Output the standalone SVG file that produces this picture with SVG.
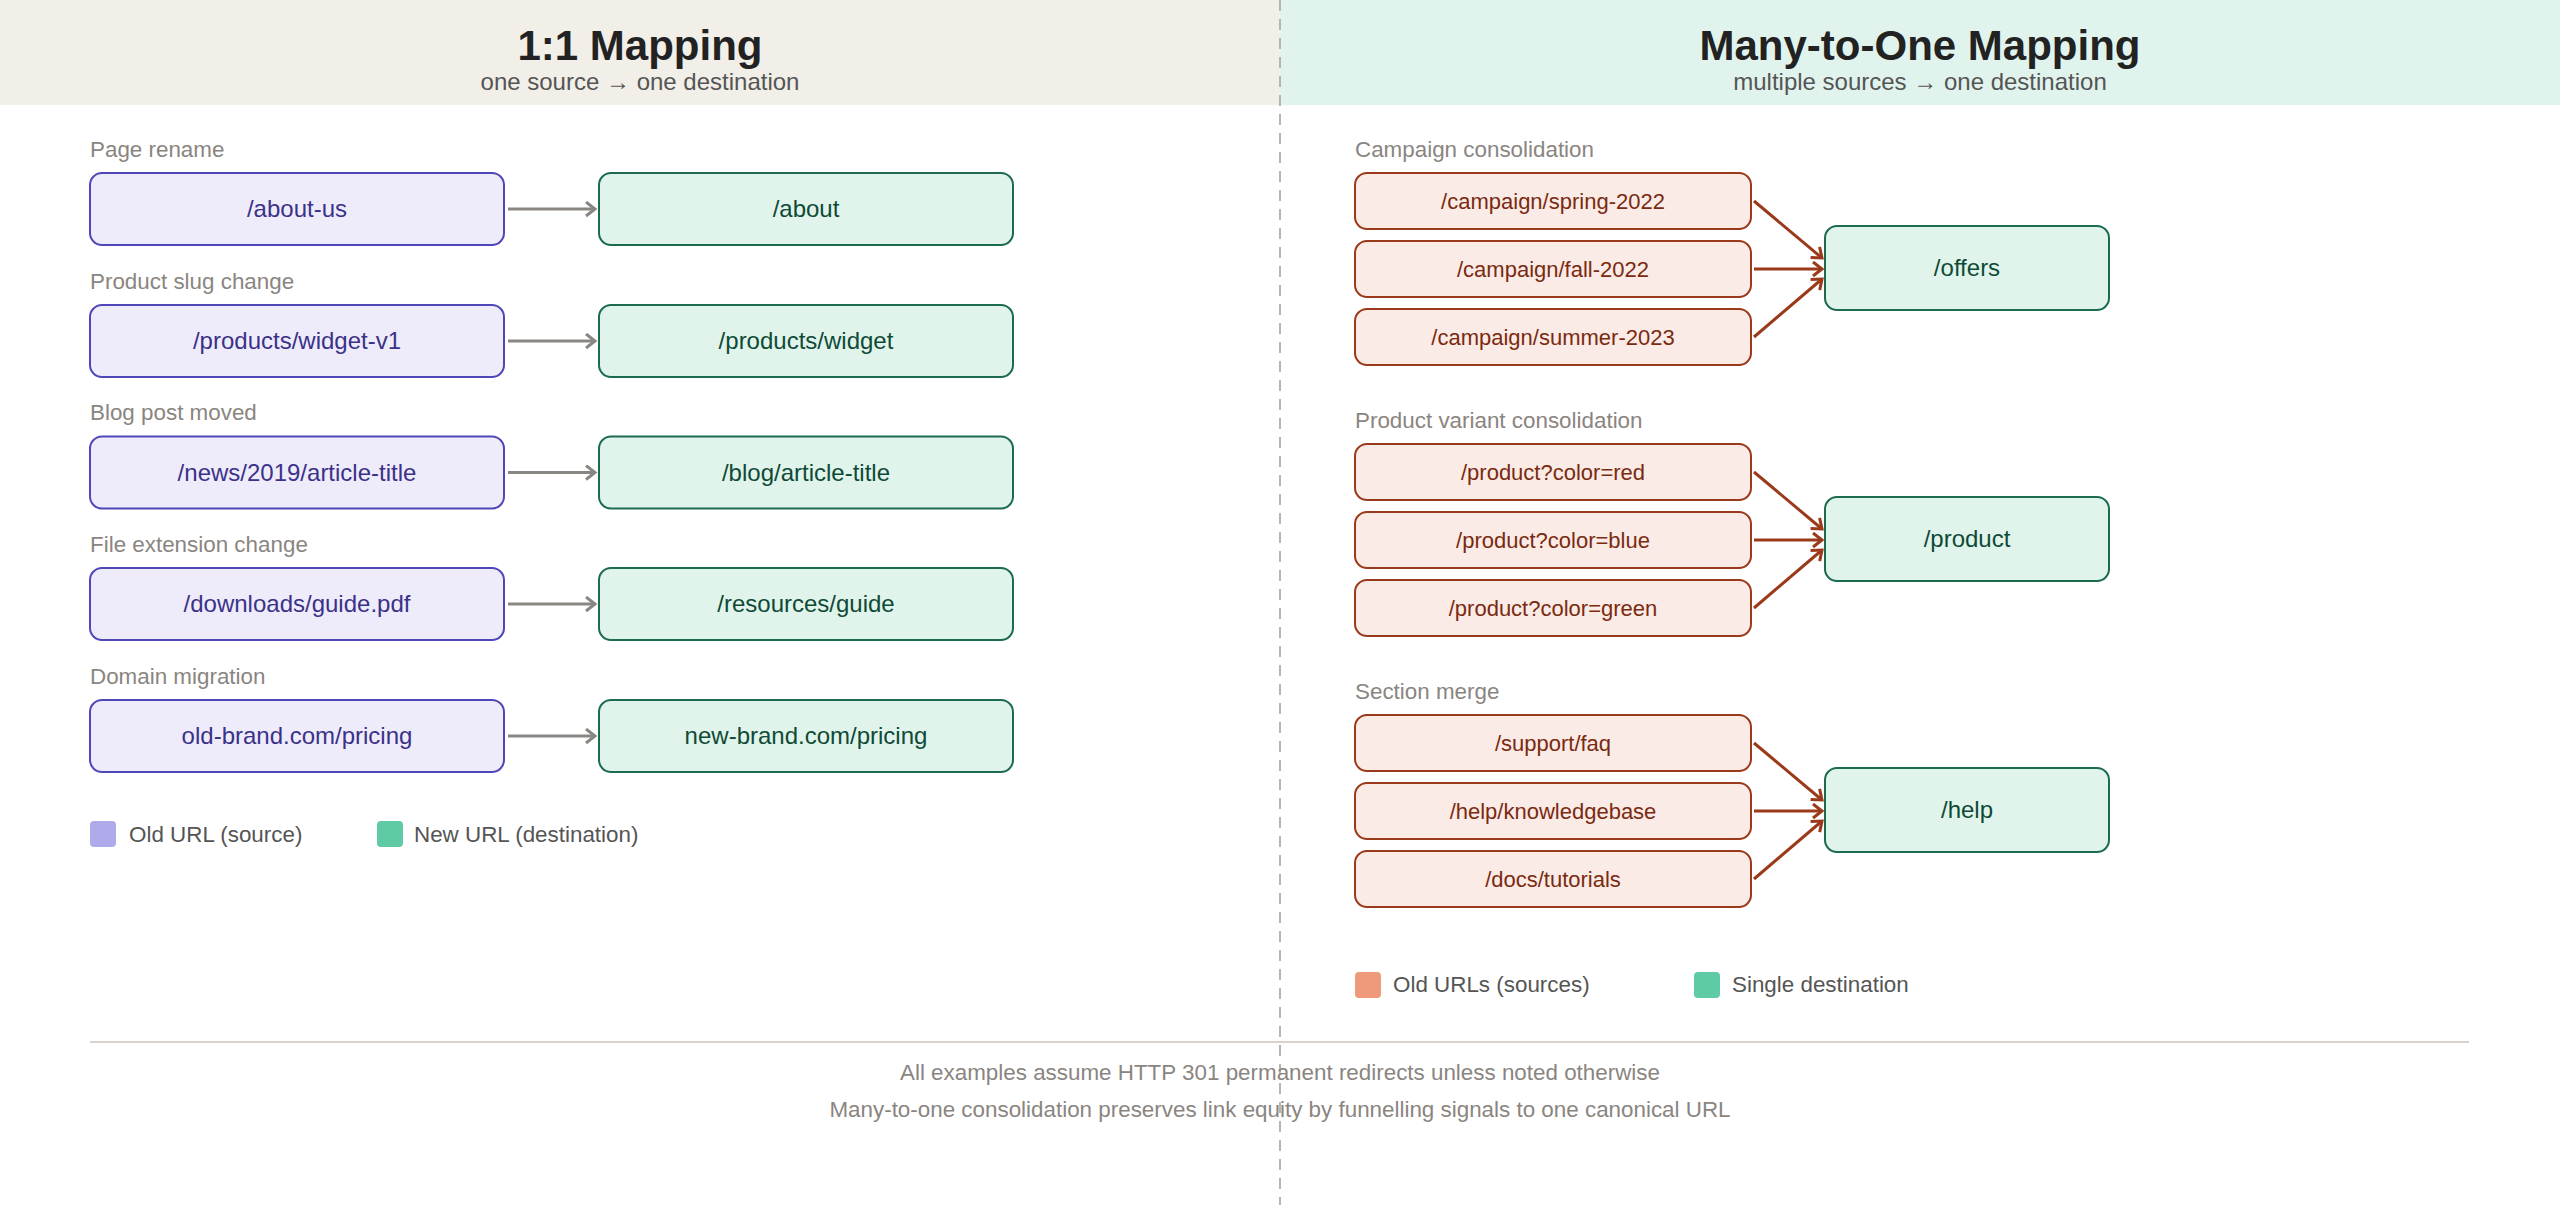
<svg xmlns="http://www.w3.org/2000/svg" width="2560" height="1205" viewBox="0 0 2560 1205">
<style>
text{font-family:"Liberation Sans",Arial,sans-serif}
.title{font-size:42px;font-weight:bold;fill:#222;text-anchor:middle}
.sub{font-size:24px;fill:#555;text-anchor:middle}
.lbl{font-size:22.4px;fill:#8a8580}
.leg{font-size:22.4px;fill:#555}
.foot{font-size:22.4px;fill:#8a8580;text-anchor:middle}
.t{font-size:24px;text-anchor:middle}
.ts{font-size:22px;text-anchor:middle}
.src rect{fill:#eeecfb;stroke:#4f46b8;stroke-width:2}
.src text{fill:#3b3288}
.dst rect{fill:#e1f4ec;stroke:#1c6b4f;stroke-width:2}
.dst text{fill:#0f4a36}
.old rect{fill:#fbebe6;stroke:#9a3a1a;stroke-width:2}
.old text{fill:#7a2a10}
.ga{stroke:#8a8783;stroke-width:3;fill:none}
.ra{stroke:#9a3a1a;stroke-width:3;fill:none}
</style>
<defs>
<marker id="mg" markerUnits="userSpaceOnUse" markerWidth="14" markerHeight="18" refX="11" refY="8" orient="auto"><path d="M2,1 L11,8 L2,15" fill="none" stroke="#8a8783" stroke-width="3"/></marker>
<marker id="mr" markerUnits="userSpaceOnUse" markerWidth="14" markerHeight="18" refX="11" refY="8" orient="auto"><path d="M2,1 L11,8 L2,15" fill="none" stroke="#9a3a1a" stroke-width="3"/></marker>
</defs>
<rect width="2560" height="1205" fill="#ffffff"/>
<g id="headers">
<rect x="0" y="0" width="1280" height="105" fill="#f2efe8"/>
<rect x="1280" y="0" width="1280" height="105" fill="#e1f3ed"/>
<text class="title" x="640" y="60">1:1 Mapping</text>
<text class="sub" x="640" y="90">one source → one destination</text>
<text class="title" x="1920" y="60">Many-to-One Mapping</text>
<text class="sub" x="1920" y="90">multiple sources → one destination</text>
</g>
<line id="divider" x1="1280" y1="0" x2="1280" y2="1205" stroke="#b8b5ae" stroke-width="2" stroke-dasharray="11 8"/>
<g id="left-labels">
<text class="lbl" x="90" y="157">Page rename</text>
<text class="lbl" x="90" y="289">Product slug change</text>
<text class="lbl" x="90" y="420">Blog post moved</text>
<text class="lbl" x="90" y="552">File extension change</text>
<text class="lbl" x="90" y="684">Domain migration</text>
</g>
<g id="s1" class="src"><rect x="90" y="173" width="414" height="72" rx="12"/><text class="t" x="297" y="217">/about-us</text></g>
<g id="d1" class="dst"><rect x="599" y="173" width="414" height="72" rx="12"/><text class="t" x="806" y="217">/about</text></g>
<g id="s2" class="src"><rect x="90" y="305" width="414" height="72" rx="12"/><text class="t" x="297" y="349">/products/widget-v1</text></g>
<g id="d2" class="dst"><rect x="599" y="305" width="414" height="72" rx="12"/><text class="t" x="806" y="349">/products/widget</text></g>
<g id="s3" class="src"><rect x="90" y="436.5" width="414" height="72" rx="12"/><text class="t" x="297" y="480.5">/news/2019/article-title</text></g>
<g id="d3" class="dst"><rect x="599" y="436.5" width="414" height="72" rx="12"/><text class="t" x="806" y="480.5">/blog/article-title</text></g>
<g id="s4" class="src"><rect x="90" y="568" width="414" height="72" rx="12"/><text class="t" x="297" y="612">/downloads/guide.pdf</text></g>
<g id="d4" class="dst"><rect x="599" y="568" width="414" height="72" rx="12"/><text class="t" x="806" y="612">/resources/guide</text></g>
<g id="s5" class="src"><rect x="90" y="700" width="414" height="72" rx="12"/><text class="t" x="297" y="744">old-brand.com/pricing</text></g>
<g id="d5" class="dst"><rect x="599" y="700" width="414" height="72" rx="12"/><text class="t" x="806" y="744">new-brand.com/pricing</text></g>
<g id="left-legend">
<rect x="90" y="821" width="26" height="26" rx="4" fill="#afabea"/>
<text class="leg" x="129" y="842">Old URL (source)</text>
<rect x="377" y="821" width="26" height="26" rx="4" fill="#5ecba4"/>
<text class="leg" x="414" y="842">New URL (destination)</text>
</g>
<g id="right-labels">
<text class="lbl" x="1355" y="157">Campaign consolidation</text>
<text class="lbl" x="1355" y="428">Product variant consolidation</text>
<text class="lbl" x="1355" y="699">Section merge</text>
</g>
<g id="c1" class="old"><rect x="1355" y="173" width="396" height="56" rx="12"/><text class="ts" x="1553" y="208.5">/campaign/spring-2022</text></g>
<g id="c2" class="old"><rect x="1355" y="241" width="396" height="56" rx="12"/><text class="ts" x="1553" y="276.5">/campaign/fall-2022</text></g>
<g id="c3" class="old"><rect x="1355" y="309" width="396" height="56" rx="12"/><text class="ts" x="1553" y="344.5">/campaign/summer-2023</text></g>
<g id="offers" class="dst"><rect x="1825" y="226" width="284" height="84" rx="12"/><text class="t" x="1967" y="276">/offers</text></g>
<g id="p1" class="old"><rect x="1355" y="444" width="396" height="56" rx="12"/><text class="ts" x="1553" y="479.5">/product?color=red</text></g>
<g id="p2" class="old"><rect x="1355" y="512" width="396" height="56" rx="12"/><text class="ts" x="1553" y="547.5">/product?color=blue</text></g>
<g id="p3" class="old"><rect x="1355" y="580" width="396" height="56" rx="12"/><text class="ts" x="1553" y="615.5">/product?color=green</text></g>
<g id="product" class="dst"><rect x="1825" y="497" width="284" height="84" rx="12"/><text class="t" x="1967" y="547">/product</text></g>
<g id="h1" class="old"><rect x="1355" y="715" width="396" height="56" rx="12"/><text class="ts" x="1553" y="750.5">/support/faq</text></g>
<g id="h2" class="old"><rect x="1355" y="783" width="396" height="56" rx="12"/><text class="ts" x="1553" y="818.5">/help/knowledgebase</text></g>
<g id="h3" class="old"><rect x="1355" y="851" width="396" height="56" rx="12"/><text class="ts" x="1553" y="886.5">/docs/tutorials</text></g>
<g id="help" class="dst"><rect x="1825" y="768" width="284" height="84" rx="12"/><text class="t" x="1967" y="818">/help</text></g>
<g id="connectors">
<line class="ga" x1="508" y1="209" x2="595" y2="209" marker-end="url(#mg)"/>
<line class="ga" x1="508" y1="341" x2="595" y2="341" marker-end="url(#mg)"/>
<line class="ga" x1="508" y1="472.5" x2="595" y2="472.5" marker-end="url(#mg)"/>
<line class="ga" x1="508" y1="604" x2="595" y2="604" marker-end="url(#mg)"/>
<line class="ga" x1="508" y1="736" x2="595" y2="736" marker-end="url(#mg)"/>
<line class="ra" x1="1754" y1="201" x2="1822" y2="258" marker-end="url(#mr)"/>
<line class="ra" x1="1754" y1="269" x2="1822" y2="269" marker-end="url(#mr)"/>
<line class="ra" x1="1754" y1="337" x2="1822" y2="279" marker-end="url(#mr)"/>
<line class="ra" x1="1754" y1="472" x2="1822" y2="529" marker-end="url(#mr)"/>
<line class="ra" x1="1754" y1="540" x2="1822" y2="540" marker-end="url(#mr)"/>
<line class="ra" x1="1754" y1="608" x2="1822" y2="550" marker-end="url(#mr)"/>
<line class="ra" x1="1754" y1="743" x2="1822" y2="800" marker-end="url(#mr)"/>
<line class="ra" x1="1754" y1="811" x2="1822" y2="811" marker-end="url(#mr)"/>
<line class="ra" x1="1754" y1="879" x2="1822" y2="821" marker-end="url(#mr)"/>
</g>
<g id="right-legend">
<rect x="1355" y="972" width="26" height="26" rx="4" fill="#ee9a7a"/>
<text class="leg" x="1393" y="992">Old URLs (sources)</text>
<rect x="1694" y="972" width="26" height="26" rx="4" fill="#5ecba4"/>
<text class="leg" x="1732" y="992">Single destination</text>
</g>
<g id="footer">
<line x1="90" y1="1042" x2="2469" y2="1042" stroke="#d8d4cc" stroke-width="2"/>
<text class="foot" x="1280" y="1080">All examples assume HTTP 301 permanent redirects unless noted otherwise</text>
<text class="foot" x="1280" y="1117">Many-to-one consolidation preserves link equity by funnelling signals to one canonical URL</text>
</g>
</svg>
